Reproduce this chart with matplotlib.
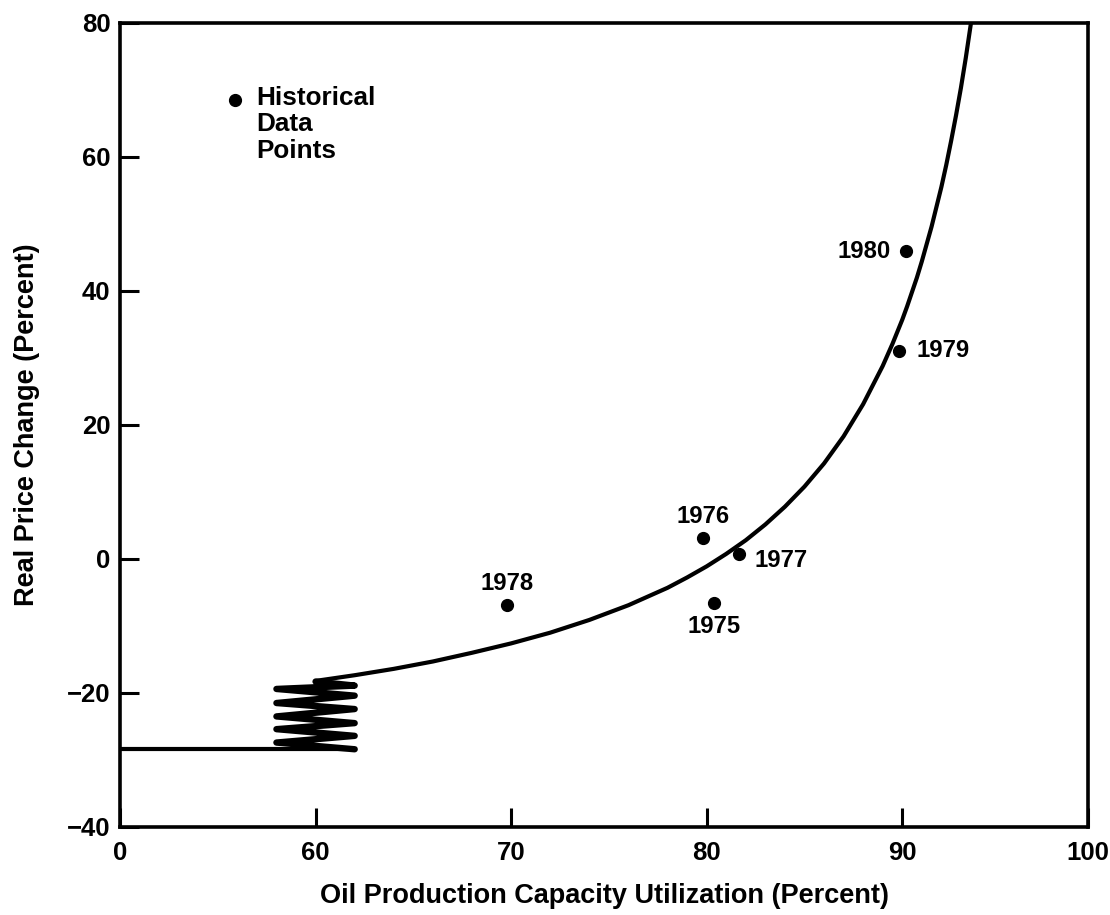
import matplotlib
matplotlib.use("Agg")
import matplotlib.pyplot as plt

plt.rcParams['font.family'] = ['Liberation Sans', 'DejaVu Sans']
plt.rcParams['font.weight'] = 'bold'

# x axis is broken: the "0" tick sits where 50 would be
x_ticks = [50, 60, 70, 80, 90, 99.5]
x_tick_labels = ['0', '60', '70', '80', '90', '100']
y_ticks = [-40, -20, 0, 20, 40, 60, 80]
y_tick_labels = ['\u221240', '\u221220', '0', '20', '40', '60', '80']

# historical data points (capacity utilization %, real price change %)
years = ['1975', '1976', '1977', '1978', '1979', '1980']
util = [80.36, 79.81, 81.66, 69.81, 89.85, 90.19]
price = [-6.5, 3.1, 0.7, -6.9, 31.1, 45.9]
label_offsets = [(0, -17.5), (0, 15.8), (11.3, -4.3), (0, 15.6), (12.7, 0), (-11.3, 0)]
label_ha = ['center', 'center', 'left', 'center', 'left', 'right']

# price response curve
curve_x = [60, 62, 64, 66, 68, 70, 72, 74, 75, 76, 77, 78, 79, 80, 81, 82, 83,
           84, 85, 86, 87, 88, 89, 89.5, 90, 90.25, 90.75, 91, 91.5, 92,
           92.25, 92.5, 92.75, 93, 93.25, 93.52]
curve_y = [-18.2, -17.35, -16.4, -15.3, -14.0, -12.6, -11.0, -9.1, -8.0, -6.9,
           -5.6, -4.3, -2.76, -1.1, 0.76, 2.8, 5.15, 7.8, 10.8, 14.25, 18.3,
           23.1, 28.8, 32.1, 35.7, 37.7, 42.0, 44.4, 49.6, 55.5, 58.8, 62.4,
           66.2, 70.3, 74.8, 80.1]

# flat floor and the squiggle at the axis break
floor_x = [50, 62]
floor_y = [-28.4, -28.4]
zig_x = [62, 58, 62, 58, 62, 58, 62, 58, 62, 58, 62, 60]
zig_y = [-28.4, -27.4, -26.4, -25.4, -24.5, -23.5, -22.4, -21.5, -20.4,
         -19.4, -18.9, -18.3]

fig = plt.figure(figsize=(11.1, 9.15), dpi=100)
ax = fig.add_axes([0.1081, 0.0962, 0.8721, 0.8787])

ax.plot(curve_x, curve_y, color='black', lw=3.0, solid_capstyle='round',
        solid_joinstyle='round')
ax.plot(floor_x, floor_y, color='black', lw=3.0)
ax.plot(zig_x, zig_y, color='black', lw=4.6, solid_capstyle='round',
        solid_joinstyle='round')

ax.plot(util, price, 'o', color='black', ms=8.5, zorder=3)
for yr, x, y, off, ha in zip(years, util, price, label_offsets, label_ha):
    ax.annotate(yr, (x, y), xytext=off, textcoords='offset points',
                ha=ha, va='center', fontsize=17.2, fontweight='bold')

# legend
ax.plot([0.1188], [0.904], 'o', color='black', ms=8.5, transform=ax.transAxes,
        clip_on=False)
ax.text(0.1405, 0.9215, 'Historical\nData\nPoints', transform=ax.transAxes,
        ha='left', va='top', fontsize=18.8, fontweight='bold', linespacing=1.12)

ax.set_xlim(50, 99.5)
ax.set_ylim(-40, 80)
ax.set_xticks(x_ticks)
ax.set_xticklabels(x_tick_labels)
ax.set_yticks(y_ticks)
ax.set_yticklabels(y_tick_labels)
ax.tick_params(direction='in', length=14, width=2.2, labelsize=18.5)
ax.tick_params(axis='x', pad=10)
ax.tick_params(axis='y', pad=7)
for s in ax.spines.values():
    s.set_linewidth(2.6)

ax.set_xlabel('Oil Production Capacity Utilization (Percent)', fontsize=19.5,
              fontweight='bold', labelpad=13)
ax.set_ylabel('Real Price Change (Percent)', fontsize=19.5, fontweight='bold',
              labelpad=19)

fig.savefig('out.png', dpi=100)
